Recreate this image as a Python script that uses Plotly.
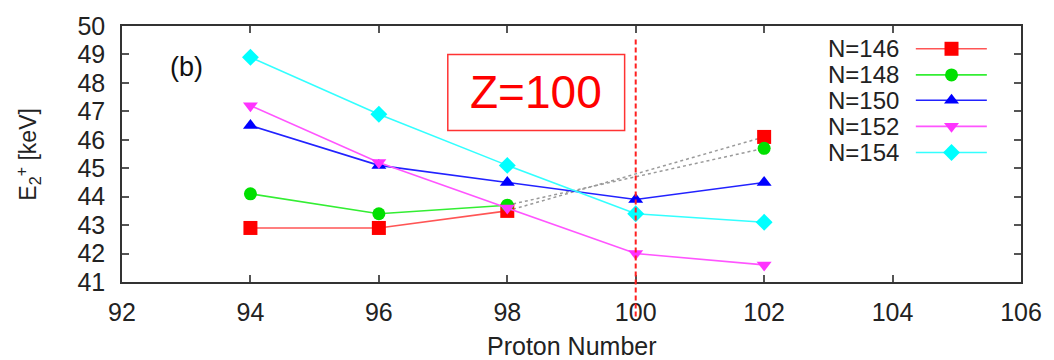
import plotly.graph_objects as go

# ---- data ----
proton = [94, 96, 98, 100, 102]
n146 = [42.9, 42.9, 43.5, None, 46.1]
n148 = [44.1, 43.4, 43.7, None, 45.7]
n150 = [46.5, 45.1, 44.5, 43.9, 44.5]
n152 = [47.2, 45.2, 43.6, 42.0, 41.6]
n154 = [48.9, 46.9, 45.1, 43.4, 43.1]
labels = ["N=146", "N=148", "N=150", "N=152", "N=154"]
# dotted extrapolation segments (98 -> 102)
dot_x = [98, 102]
dot146 = [43.5, 46.1]
dot148 = [43.7, 45.7]
xticks = [92, 94, 96, 98, 100, 102, 104, 106]
yticks = [41, 42, 43, 44, 45, 46, 47, 48, 49, 50]
z_line = 100

series = [n146, n148, n150, n152, n154]
colors = ["#ff0000", "#00e000", "#0000ff", "#ff33ff", "#00ffff"]
line_colors = ["#ff5555", "#33ee33", "#2222ff", "#ff55ff", "#33ffff"]
symbols = ["square", "circle", "triangle-up", "triangle-down", "diamond"]
msizes = [14, 13, 13, 13, 13]

FONT = "Liberation Sans, Arial, Helvetica, sans-serif"
TXT = "#222"

fig = go.Figure()

# gray dotted extrapolations
for d in (dot146, dot148):
    fig.add_trace(go.Scatter(x=dot_x, y=d, mode="lines",
                             line=dict(color="#9a9a9a", width=1.5, dash="dot"),
                             showlegend=False, hoverinfo="skip"))

for ys, c, lc, s, ms in zip(series, colors, line_colors, symbols, msizes):
    fig.add_trace(go.Scatter(x=proton, y=ys, mode="lines+markers",
                             connectgaps=False,
                             line=dict(color=lc, width=1.6),
                             marker=dict(color=c, symbol=s, size=ms),
                             showlegend=False))

# custom legend (text left, sample right) on overlay axes
leg_y = [0.911, 0.809, 0.710, 0.608, 0.506]
for lab, c, lc, s, ms, yy in zip(labels, colors, line_colors, symbols, msizes, leg_y):
    fig.add_trace(go.Scatter(x=[0.883, 0.9227, 0.962], y=[yy, yy, yy],
                             xaxis="x2", yaxis="y2", mode="lines",
                             line=dict(color=lc, width=1.6),
                             showlegend=False, hoverinfo="skip"))
    fig.add_trace(go.Scatter(x=[0.9227], y=[yy], xaxis="x2", yaxis="y2",
                             mode="markers",
                             marker=dict(color=c, symbol=s, size=ms),
                             showlegend=False, hoverinfo="skip"))
    fig.add_annotation(x=0.866, y=yy, xref="paper", yref="paper",
                       text=lab, showarrow=False, xanchor="right", yanchor="middle",
                       font=dict(family=FONT, size=24, color=TXT))

# vertical dashed Z=100 line
fig.add_shape(type="line", x0=z_line, x1=z_line, xref="x", yref="paper",
              y0=0.947, y1=-0.145, line=dict(color="#ff2020", width=2, dash="5px,3px"))

# Z=100 box
fig.add_shape(type="rect", xref="paper", yref="paper",
              x0=0.3624, x1=0.5591, y0=0.5916, y1=0.889,
              line=dict(color="#ff3333", width=1.5), fillcolor="white")
fig.add_annotation(x=(0.3624 + 0.5591) / 2, y=(0.5916 + 0.889) / 2,
                   xref="paper", yref="paper", text="Z=100", showarrow=False,
                   xanchor="center", yanchor="middle",
                   font=dict(family=FONT, size=46, color="#ff0000"))

# (b) label
fig.add_annotation(x=(187 - 122) / 905, y=(282 - 62) / 262, xref="paper", yref="paper",
                   text="(b)", showarrow=False, xanchor="center", yanchor="middle",
                   font=dict(family=FONT, size=27, color="#111"))

# axis titles
fig.add_annotation(x=0.5, y=(282 - 347) / 262, xref="paper", yref="paper",
                   text="Proton Number", showarrow=False, xanchor="center", yanchor="middle",
                   font=dict(family=FONT, size=25, color=TXT))
fig.add_annotation(x=(27 - 122) / 905, y=0.5, xref="paper", yref="paper",
                   text="E<sub>2</sub><sup>+</sup> [keV]", showarrow=False, textangle=-90,
                   xanchor="center", yanchor="middle",
                   font=dict(family=FONT, size=23, color=TXT))

axis_common = dict(showline=True, linecolor="#333", linewidth=1.5, mirror="ticks",
                   ticks="inside", ticklen=7, tickwidth=1.5, tickcolor="#555",
                   showgrid=False, zeroline=False,
                   tickfont=dict(family=FONT, size=25, color=TXT))

fig.update_layout(
    width=1054, height=360,
    margin=dict(l=122, r=27, t=20, b=78),
    paper_bgcolor="white", plot_bgcolor="white",
    showlegend=False,
    xaxis=dict(range=[92, 106], tickvals=xticks, ticklabelstandoff=7, **axis_common),
    yaxis=dict(range=[41, 50], tickvals=yticks, ticklabelstandoff=10, **axis_common),
    xaxis2=dict(domain=[0, 1], range=[0, 1], overlaying="x", visible=False, anchor="y2"),
    yaxis2=dict(domain=[0, 1], range=[0, 1], overlaying="y", visible=False, anchor="x2"),
)

fig.write_html("out.html")
